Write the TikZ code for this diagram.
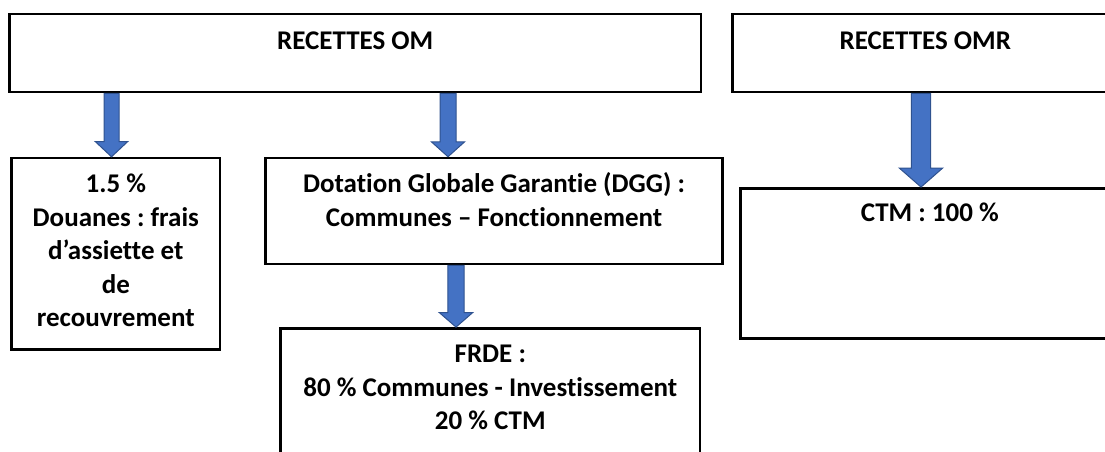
\documentclass[tikz,border=0pt]{standalone}
\usepackage{fontspec}
\setmainfont{Carlito}[Ligatures=NoCommon]
\frenchspacing
\usetikzlibrary{calc}
\definecolor{arrowblue}{HTML}{4472C4}
\definecolor{arrowedge}{HTML}{2F528F}
\tikzset{
  box/.style={draw=black, line width=2.5pt, inner sep=0pt},
  boxtext/.style={font=\bfseries\fontsize{27}{33.5}\selectfont, align=center, inner sep=0pt},
  blockarrow/.style={fill=arrowblue, draw=arrowedge, line width=1pt, line join=miter},
}
% vertical block arrow: x, from, to, half shaft, half head, head length
\newcommand\flowarrow[6]{%
  \draw[blockarrow] let \p1=(#2), \p2=(#3) in
    (#1pt-#4pt,\y1) -- (#1pt-#4pt,\y2+#6pt) -- (#1pt-#5pt,\y2+#6pt) -- (#1pt,\y2)
    -- (#1pt+#5pt,\y2+#6pt) -- (#1pt+#4pt,\y2+#6pt) -- (#1pt+#4pt,\y1) -- cycle;}

\begin{document}
\begin{tikzpicture}[x=1pt,y=-1pt]
  \useasboundingbox (0,0) rectangle (1105,452);
  \clip (0,0) rectangle (1105,452);
  % boxes
  \node[box, minimum width=691.7pt, minimum height=78pt] (om) at (355.2,53) {};
  \node[box, minimum width=385.3pt, minimum height=78pt] (omr) at (925.3,53) {};
  \node[box, minimum width=208.3pt, minimum height=191.3pt] (douanes) at (115.8,253.7) {};
  \node[box, minimum width=456.6pt, minimum height=106pt] (dgg) at (494,211) {};
  \node[box, minimum width=419.3pt, minimum height=146.7pt] (frde) at (490.3,401.7) {};
  \node[box, minimum width=378.3pt, minimum height=150pt] (ctm) at (929.8,263.3) {};
  % texts
  \node[boxtext, anchor=base] (omtext) at (355.2,49) {RECETTES OM};
  \node[boxtext, anchor=base] (omrtext) at (925.3,49) {RECETTES OMR};
  \node[boxtext, anchor=north] (douanestext) at (115.8,168.85)
    {\strut 1.5 \%\\Douanes : frais\\d’assiette et\\de\\recouvrement};
  \node[boxtext, anchor=north] (dggtext) at (494,168.85)
    {\strut Dotation Globale Garantie (DGG) :\\Communes – Fonctionnement};
  \node[boxtext, anchor=north] (frdetext) at (490.3,338.85)
    {\strut FRDE :\\80 \% Communes - Investissement\\20 \% CTM};
  \node[boxtext, anchor=base] (ctmtext) at (929.8,221.7) {CTM : 100 \%};
  % arrows
  \flowarrow{111.5}{om.south}{douanes.north}{7.5}{16.3}{15.3}
  \flowarrow{448}{om.south}{dgg.north}{8}{16.7}{15}
  \flowarrow{456}{dgg.south}{frde.north}{8.2}{16.7}{14.5}
  \flowarrow{921}{omr.south}{ctm.north}{9.7}{21.7}{19}
\end{tikzpicture}
\end{document}
